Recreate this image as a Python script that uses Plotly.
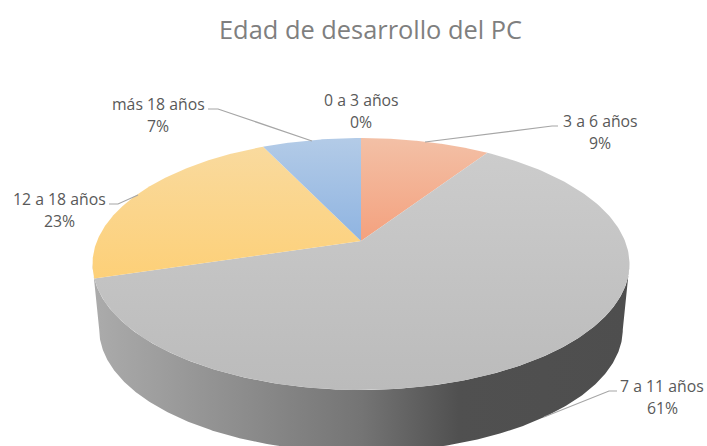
import numpy as np
import plotly.graph_objects as go

categories = ["0 a 3 años", "3 a 6 años", "7 a 11 años", "12 a 18 años", "más 18 años"]
values = [0.0, 9.3, 61.0, 22.6, 7.1]

top_colors = ["#6FA0D8", "#F3C0A6", "#CCCCCC", "#F9DA9E", "#B3CBE7"]
low_colors = ["#6FA0D8", "#F4A17E", "#BBBBBB", "#FDD078", "#8FB4E1"]

# projection of the tilted pie (perspective) on the page
CX, CY = 361.0, 241.0
A, B, K = 264.0, 121.8, 0.1825
DEPTH, SHRINK = 66.0, 0.975


def project(theta, s=1.0, dy=0.0):
    w = 1 + K * np.cos(theta)
    return CX + s * A * np.sin(theta) / w, CY + dy - s * B * np.cos(theta) / w


fig = go.Figure()

# side wall: front half of the rim down to the lower rim
t0 = np.arccos(-K)
t = np.linspace(t0, 2 * np.pi - t0, 300)
x1, y1 = project(t)
x2, y2 = project(t[::-1], SHRINK, DEPTH)
fig.add_trace(go.Scatter(
    x=np.r_[x1, x2], y=np.r_[y1, y2], mode="lines", line=dict(width=0), fill="toself",
    fillgradient=dict(type="horizontal", start=95, stop=630,
                      colorscale=[[0, "#ABABAB"], [0.5, "#747474"], [0.68, "#505050"], [1, "#4E4E4E"]]),
    hoverinfo="skip", showlegend=False))

# top slices, clockwise from twelve o'clock
total = sum(values)
edges = np.r_[0, np.cumsum(values)] / total * 2 * np.pi
for i, name in enumerate(categories):
    if values[i] == 0:
        continue
    t = np.linspace(edges[i], edges[i + 1], 200)
    x, y = project(t)
    fig.add_trace(go.Scatter(
        x=np.r_[CX, x, CX], y=np.r_[CY, y, CY], mode="lines", line=dict(width=0), fill="toself",
        fillgradient=dict(type="vertical", start=float(y.min()), stop=float(max(y.max(), CY)),
                          colorscale=[[0, top_colors[i]], [1, low_colors[i]]]),
        name=name, hoverinfo="name", showlegend=False))

# leader lines and labels (label layout on the page)
leaders = {
    "0 a 3 años": None,
    "3 a 6 años": ([558, 552, 425], [126, 126, 142]),
    "7 a 11 años": ([617, 609, 544], [391, 391, 417]),
    "12 a 18 años": ([109, 118, 138], [204, 204, 195]),
    "más 18 años": ([208, 218, 312], [109, 109, 141]),
}
label_pos = {
    "0 a 3 años": (361, 100),
    "3 a 6 años": (600, 121),
    "7 a 11 años": (662, 386),
    "12 a 18 años": (59, 199),
    "más 18 años": (158, 104),
}
for name in categories:
    seg = leaders[name]
    if seg:
        fig.add_trace(go.Scatter(x=seg[0], y=seg[1], mode="lines",
                                 line=dict(color="#A6A6A6", width=1.2),
                                 hoverinfo="skip", showlegend=False))

annotations = []
for name, v in zip(categories, values):
    lx, ly = label_pos[name]
    for text, yy in ((name, ly), (f"{round(v / total * 100)}%", ly + 22)):
        annotations.append(dict(x=lx, y=yy, text=text, showarrow=False, xanchor="center", yanchor="middle",
                                font=dict(family="Open Sans", size=15.8, color="#595959")))
annotations.append(dict(x=370, y=29, text="Edad de desarrollo del PC", showarrow=False,
                        xanchor="center", yanchor="middle",
                        font=dict(family="Open Sans", size=25.4, color="#7F7F7F")))

fig.update_layout(
    width=707, height=446, margin=dict(l=0, r=0, t=0, b=0),
    paper_bgcolor="white", plot_bgcolor="white", annotations=annotations,
    xaxis=dict(range=[0, 707], visible=False, fixedrange=True),
    yaxis=dict(range=[446, 0], visible=False, fixedrange=True),
)
fig.write_html("out.html", config={"displayModeBar": False},
               post_script="document.body.style.margin='0';document.body.style.overflow='hidden';")
